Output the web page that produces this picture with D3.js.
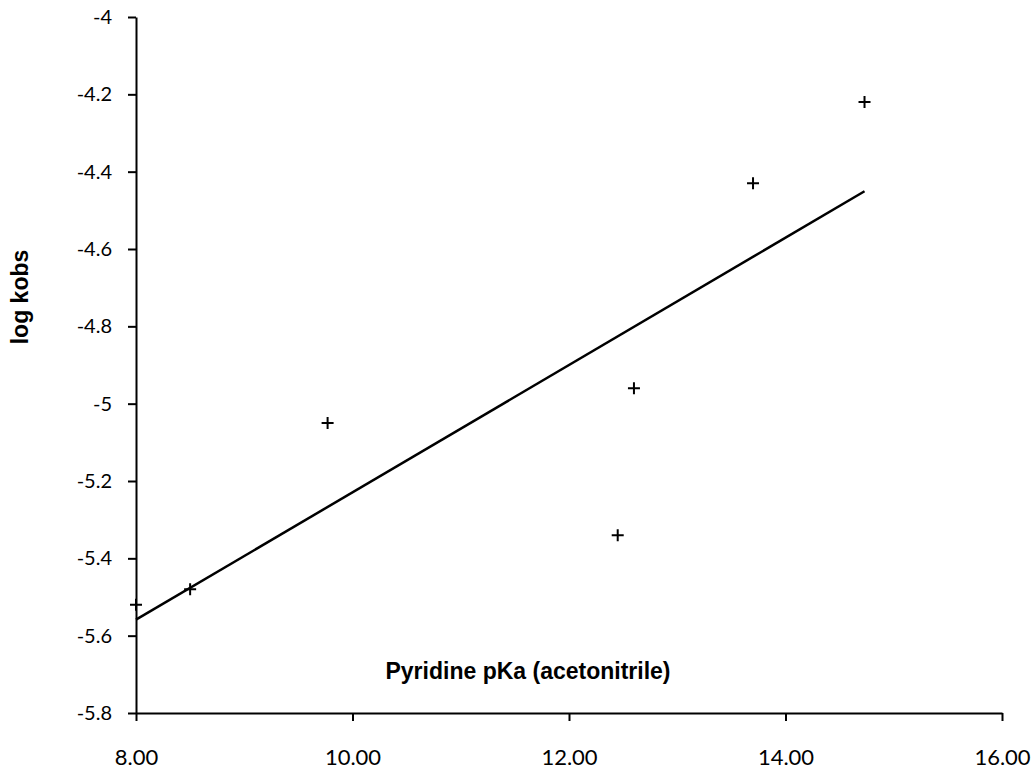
<!DOCTYPE html>
<html>
<head>
<meta charset="utf-8">
<script src="https://cdn.jsdelivr.net/npm/d3@7"></script>
<style>
  body { margin: 0; background: #fff; }
  svg { display: block; }
  .tick text { font-family: Lato, "Open Sans", sans-serif; font-size: 22px; fill: #000; }
  .y-axis .tick text { font-size: 20px; }
  .title { font-family: "Liberation Sans", Arial, sans-serif; font-weight: bold; font-size: 23px; fill: #000; }
</style>
</head>
<body>
<svg id="chart" width="1035" height="769"></svg>
<script>
// pyridine pKa in acetonitrile vs log kobs
const pKa = [8.00, 8.50, 9.77, 12.45, 12.60, 13.70, 14.73];
const logKobs = [-5.52, -5.48, -5.05, -5.34, -4.96, -4.43, -4.22];

const xTicks = [8, 10, 12, 14, 16];
const yTicks = [-4, -4.2, -4.4, -4.6, -4.8, -5, -5.2, -5.4, -5.6, -5.8];

const svg = d3.select('#chart');

const x = d3.scaleLinear().domain([8, 16]).range([136, 1002]);
const y = d3.scaleLinear().domain([-5.8, -4]).range([713, 17]);

// axes
svg.append('g')
    .attr('class', 'x-axis')
    .attr('transform', `translate(0,${y(-5.8)})`)
    .call(d3.axisBottom(x).tickValues(xTicks).tickSize(8).tickSizeOuter(0).tickPadding(28)
        .tickFormat(d3.format('.2f')));

svg.append('g')
    .attr('class', 'y-axis')
    .attr('transform', `translate(${x(8)},0)`)
    .call(d3.axisLeft(y).tickValues(yTicks).tickSize(8).tickSizeOuter(0).tickPadding(16)
        .tickFormat((d) => String(+d.toFixed(1))));

svg.selectAll('.domain, .tick line').attr('stroke', '#000').attr('stroke-width', 2);
svg.selectAll('.tick text').attr('font-size', null);

// least-squares trend line
const mx = d3.mean(pKa);
const my = d3.mean(logKobs);
const slope = d3.sum(pKa, (v, i) => (v - mx) * (logKobs[i] - my)) / d3.sum(pKa, (v) => (v - mx) ** 2);
const fit = (v) => my + slope * (v - mx);
const xExt = d3.extent(pKa);

svg.append('line')
    .attr('x1', x(xExt[0]))
    .attr('y1', y(fit(xExt[0])))
    .attr('x2', x(xExt[1]))
    .attr('y2', y(fit(xExt[1])))
    .attr('stroke', '#000')
    .attr('stroke-width', 2.5);

// points
svg.append('g')
    .selectAll('path')
    .data(pKa)
    .join('path')
    .attr('transform', (d, i) => `translate(${x(d)},${y(logKobs[i])})`)
    .attr('d', 'M-6,0H6M0,-6V6')
    .attr('stroke', '#000')
    .attr('stroke-width', 2);

// titles
svg.append('text')
    .attr('class', 'title')
    .attr('x', 528)
    .attr('y', 679)
    .attr('text-anchor', 'middle')
    .text('Pyridine pKa (acetonitrile)');

svg.append('text')
    .attr('class', 'title')
    .attr('transform', 'translate(28,297) rotate(-90)')
    .attr('text-anchor', 'middle')
    .text('log kobs');
</script>
</body>
</html>
